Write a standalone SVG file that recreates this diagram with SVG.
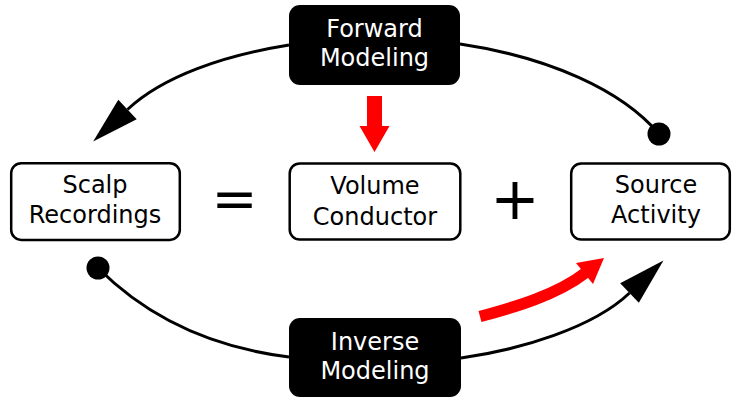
<svg xmlns="http://www.w3.org/2000/svg" width="732" height="398" viewBox="0 0 732 398">
<style>
.lbl{font-family:"DejaVu Sans",Verdana,sans-serif;font-size:24px;text-anchor:middle}
.white{fill:#fff}
.dark{fill:#000}
.wbox{fill:#fff;stroke:#000;stroke-width:2.5}
.bbox{fill:#000;stroke:none}
.arc{fill:none;stroke:#000;stroke-width:3}
.op{font-family:"DejaVu Sans",Verdana,sans-serif;text-anchor:middle;fill:#000}
</style>
<defs>
<marker id="arrow" markerUnits="userSpaceOnUse" viewBox="0 -14 48 28" markerWidth="48" markerHeight="28" refX="0" refY="0" orient="auto" overflow="visible">
<path d="M0,-13.5 L47,0 L0,13.5 Z" fill="#000"/>
</marker>
<marker id="dot" markerUnits="userSpaceOnUse" viewBox="-12 -12 24 24" markerWidth="24" markerHeight="24" refX="0" refY="0" overflow="visible">
<circle cx="0" cy="0" r="11.5" fill="#000"/>
</marker>
</defs>
<g id="connectors">
<path class="arc" d="M289,45 C224,55.5 163.3,76.1 127.5,109.5" marker-end="url(#arrow)"/>
<path class="arc" d="M460,44 C548,57 622,90 659,134" marker-end="url(#dot)"/>
<path class="arc" d="M98,268 C147.5,317.5 209.6,347.2 289,357" marker-start="url(#dot)"/>
<path class="arc" d="M461,358 C520.4,349.7 593.4,327.6 629.5,293" marker-end="url(#arrow)"/>
<path id="red-down" d="M367,96 H382 V126 H389.5 L374.5,152 L359.5,126 H367 Z" fill="#ff0000"/>
<g id="red-curved">
<path d="M480,316.5 C513.8,307.4 556.9,295 585.5,272.7" fill="none" stroke="#ff0000" stroke-width="11.5"/>
<polygon points="604,258 576,263 593,284" fill="#ff0000"/>
</g>
</g>
<g id="forward">
<rect class="bbox" x="289" y="5" width="171" height="80" rx="11"/>
<text class="lbl white" x="374.5" y="37">Forward</text>
<text class="lbl white" x="374.5" y="66">Modeling</text>
</g>
<g id="inverse">
<rect class="bbox" x="289" y="318" width="172" height="79" rx="11"/>
<text class="lbl white" x="375" y="349.5">Inverse</text>
<text class="lbl white" x="375" y="379">Modeling</text>
</g>
<g id="scalp">
<rect class="wbox" x="11.2" y="163.3" width="168.6" height="76.6" rx="10"/>
<text class="lbl dark" x="95" y="192.5">Scalp</text>
<text class="lbl dark" x="95" y="222.5">Recordings</text>
</g>
<g id="volume">
<rect class="wbox" x="289.7" y="163.5" width="170.6" height="76" rx="10"/>
<text class="lbl dark" x="375" y="194">Volume</text>
<text class="lbl dark" x="375" y="225">Conductor</text>
</g>
<g id="source">
<rect class="wbox" x="571.2" y="163.5" width="158.6" height="76" rx="10"/>
<text class="lbl dark" x="656" y="193">Source</text>
<text class="lbl dark" x="656" y="222.5">Activity</text>
</g>
<text class="op" x="234.5" y="217.8" font-size="55">=</text>
<text class="op" x="515" y="219" font-size="59">+</text>
</svg>
